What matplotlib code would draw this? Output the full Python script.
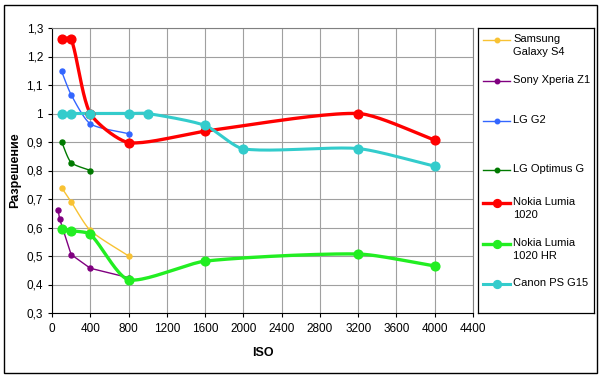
import numpy as np
import matplotlib
matplotlib.use("Agg")
import matplotlib.pyplot as plt
from matplotlib.lines import Line2D
from matplotlib.patches import Rectangle
from matplotlib.ticker import FuncFormatter

plt.rcParams["font.family"] = ["Liberation Sans", "DejaVu Sans"]

# ---- data ----
samsung_iso = [100, 200, 400, 800]
samsung_res = [0.74, 0.69, 0.59, 0.50]

sony_iso = [64, 80, 200, 400, 800]
sony_res = [0.66, 0.63, 0.505, 0.457, 0.424]

lgg2_iso = [100, 200, 400, 800]
lgg2_res = [1.148, 1.066, 0.964, 0.929]

optimus_iso = [100, 200, 400]
optimus_res = [0.901, 0.828, 0.80]

lumia_iso = [100, 200, 400, 800, 1600, 3200, 4000]
lumia_res = [1.262, 1.262, 1.0, 0.898, 0.938, 1.0, 0.907]

lumia_hr_iso = [100, 200, 400, 800, 1600, 3200, 4000]
lumia_hr_res = [0.596, 0.589, 0.576, 0.417, 0.482, 0.507, 0.465]

canon_iso = [100, 200, 400, 800, 1000, 1600, 2000, 3200, 4000]
canon_res = [1.0, 1.0, 1.0, 1.0, 1.0, 0.958, 0.876, 0.877, 0.815]

x_ticks = list(range(0, 4401, 400))
y_ticks = [0.3, 0.4, 0.5, 0.6, 0.7, 0.8, 0.9, 1.0, 1.1, 1.2, 1.3]

# name, x, y, color, linewidth, marker size, smoothed
SERIES = [
    ("Samsung\nGalaxy S4", samsung_iso, samsung_res, "#F8C233", 1.0, 3.6, True),
    ("Sony Xperia Z1", sony_iso, sony_res, "#800080", 1.0, 3.6, False),
    ("LG G2", lgg2_iso, lgg2_res, "#3366FF", 1.0, 3.6, True),
    ("LG Optimus G", optimus_iso, optimus_res, "#007A00", 1.0, 3.6, True),
    ("Nokia Lumia\n1020", lumia_iso, lumia_res, "#FF0000", 2.4, 6.3, True),
    ("Nokia Lumia\n1020 HR", lumia_hr_iso, lumia_hr_res, "#22EE22", 2.4, 6.3, True),
    ("Canon PS G15", canon_iso, canon_res, "#33CCCC", 2.2, 6.3, True),
]


def smooth(xs, ys, sx, sy, n=24, k=0.7):
    """Smoothed line: Bezier segments, tangents scaled by neighbouring segment lengths (pixel space)."""
    p = np.column_stack([np.asarray(xs, float) * sx, np.asarray(ys, float) * sy])
    if len(p) < 3:
        return xs, ys
    ext = np.vstack([p[0], p, p[-1]])
    t = np.linspace(0, 1, n)[:, None]
    out = [p[:1]]
    for i in range(1, len(ext) - 2):
        p0, p1, p2, p3 = ext[i - 1], ext[i], ext[i + 1], ext[i + 2]
        d01 = np.hypot(*(p1 - p0))
        d12 = np.hypot(*(p2 - p1))
        d23 = np.hypot(*(p3 - p2))
        c1 = p1 + (p2 - p0) * (k * d12 / (d01 + d12) / 3.0 if d01 + d12 > 0 else 0)
        c2 = p2 - (p3 - p1) * (k * d12 / (d12 + d23) / 3.0 if d12 + d23 > 0 else 0)
        seg = ((1 - t) ** 3) * p1 + 3 * ((1 - t) ** 2) * t * c1 + 3 * (1 - t) * t ** 2 * c2 + t ** 3 * p2
        out.append(seg[1:])
    q = np.vstack(out)
    return q[:, 0] / sx, q[:, 1] / sy


W, H = 600, 378
fig = plt.figure(figsize=(6.0, 3.78), dpi=100)
ax_l, ax_r, ax_t, ax_b = 52, 473, 28, 313
ax = fig.add_axes([ax_l / W, 1 - ax_b / H, (ax_r - ax_l) / W, (ax_b - ax_t) / H])

sx = (ax_r - ax_l) / 4400.0
sy = (ax_b - ax_t) / 1.0
for name, xs, ys, col, lw, ms, sm in SERIES:
    if sm:
        lx, ly = smooth(xs, ys, sx, sy)
    else:
        lx, ly = xs, ys
    ax.plot(lx, ly, color=col, lw=lw, zorder=3, solid_capstyle="round")
    ax.plot(xs, ys, ls="none", marker="o", ms=ms, color=col, mec=col, zorder=4)

ax.set_xlim(0, 4400)
ax.set_ylim(0.3, 1.3)
ax.set_xticks(x_ticks)
ax.set_yticks(y_ticks)
ax.yaxis.set_major_formatter(FuncFormatter(lambda v, _: f"{v:.1f}".rstrip("0").rstrip(".").replace(".", ",")))
ax.grid(True, color="#A0A0A0", lw=0.8)
ax.set_axisbelow(True)
ax.tick_params(axis="both", labelsize=8.5, length=3, width=0.8, color="black", direction="out")
ax.tick_params(axis="x", pad=4)
for s in ("top", "right"):
    ax.spines[s].set_color("#808080")
for s in ("left", "bottom"):
    ax.spines[s].set_color("black")
ax.set_xlabel("ISO", fontsize=9, fontweight="bold", labelpad=9)
ax.set_ylabel("Разрешение", fontsize=9, fontweight="bold", labelpad=4)

# ---- legend, drawn as its own box to the right ----
lg_l, lg_r = 478, 594
lax = fig.add_axes([lg_l / W, 1 - ax_b / H, (lg_r - lg_l) / W, (ax_b - ax_t) / H])
lax.set_xlim(lg_l, lg_r)
lax.set_ylim(ax_b, ax_t)
lax.set_xticks([])
lax.set_yticks([])
for s in lax.spines.values():
    s.set_color("black")
    s.set_linewidth(0.9)
row_y = [40, 81, 121, 170, 203, 244, 284]
for (name, xs, ys, col, lw, ms, sm), yy in zip(SERIES, row_y):
    lax.add_line(Line2D([483, 510], [yy, yy], color=col, lw=lw))
    lax.plot([496.5], [yy], marker="o", ms=ms * 0.9, color=col)
    lax.text(513, yy - 6, name, fontsize=8, va="top", ha="left", linespacing=1.35)

fig.patches.append(Rectangle((4 / W, 1 - 373 / H), 593 / W, 368 / H, transform=fig.transFigure,
                             fill=False, ec="black", lw=1.0))

fig.savefig("out.png", dpi=100)
